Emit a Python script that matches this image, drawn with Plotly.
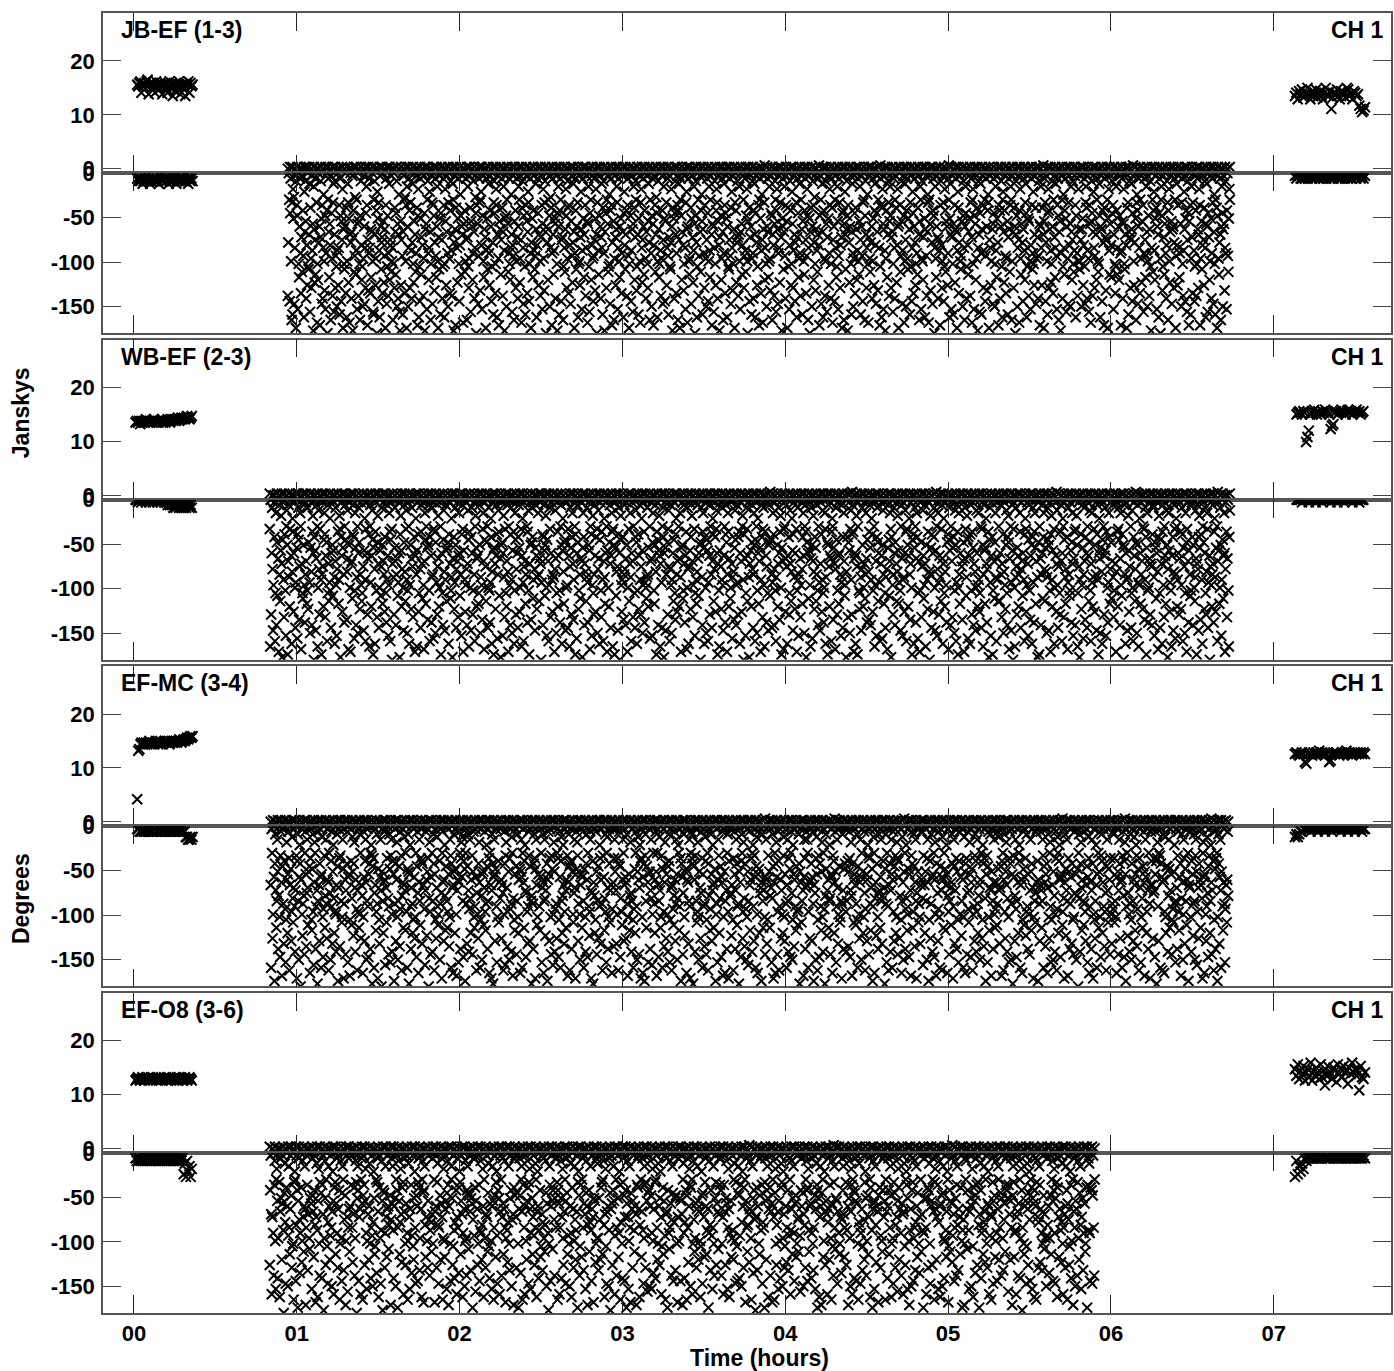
import numpy as np
import plotly.graph_objects as go

# ---------------------------------------------------------------- data
# Values are stored as one character per sample.  The character's index k in
# CODE gives the value: amplitude = k * AMP_STEP_JY, phase = -k * PHASE_STEP_DEG.
CODE = "0123456789abcdefghijklmnopqrstuvwxyzABCDEFGHIJKLMNOPQRSTUVWXY"
AMP_STEP_JY = 0.3
PHASE_STEP_DEG = 3.0

BASELINES = ["JB-EF (1-3)", "WB-EF (2-3)", "EF-MC (3-4)", "EF-O8 (3-6)"]
CHANNEL_LABEL = "CH 1"
HOUR_TICKS = [0, 1, 2, 3, 4, 5, 6, 7]
HOUR_LABELS = ["00", "01", "02", "03", "04", "05", "06", "07"]
AMP_TICKS = [0, 10, 20]
AMP_TICK_LABELS = ["0", "10", "20"]
PHASE_TICKS = [-150, -100, -50, 0]
PHASE_TICK_LABELS = ["-150", "-100", "-50", "0"]
AMP_RANGE = [-0.83, 28.9]
PHASE_RANGE = [-180, 0]
TIME_RANGE = [-0.19, 7.72]

# scan spans (hours) for each baseline
CAL1_SPAN = [(0.02, 0.36), (0.01, 0.355), (0.02, 0.36), (0.01, 0.355)]
TARGET_SPAN = [(0.945, 6.73), (0.834, 6.73), (0.84, 6.72), (0.834, 5.90)]
CAL2_SPAN = [(7.13, 7.56), (7.14, 7.55), (7.13, 7.56), (7.13, 7.56)]

CAL1_AMP = [
    "QPRSLQPRQSTKQRORPLSQPNRQKPQROLPSQRJQMRQPSKQOPQJRQSLRPQ",
    "JKJKIKJKJLKJKJKJLKJKJKKLJKJKLKJKLKLKLMKLMLMLMNMLMN",
    "eIJMNMNMNMNONMNMNONMNONMNONONMNONONONOPONOPOPQPQRQR",
    "GHIHGHIHGHHIHGHIHHGHIHGHHIHGHIHGHHIHGHIHHGHIHGHIHG",
]
CAL1_PHASE = [
    "2323243231324322332341233223243233214323232233242323",
    "00100100010010010001001001112121232322323232322323",
    "11222122212122211221221222121221222122121224455454",
    "23232332323232323232332323232323233232323284937596",
]
CAL2_AMP = [
    "JLHMKNIJLOKHMJLNIKMJHLOKJMBIKLNJHMKLIONJKHMLJKDBzAC",
    "OPQPOQPxAEOPQRPOQPOQPRQPOFHIPQOPQRQPOQRPQOPQRPQOPQ",
    "GHGFGHGBAGHGFHGHGIGHGFGHBCGHGHGFGHGHIGHGFGHGHGHGHG",
    "NJQHMKPGLNIRGMJOLHQIMDJPKLHOMFQKNIPLMEOKRLNJMAPIHL",
]
CAL2_PHASE = [
    "12112212121121211221212112121121211212122112112121",
    "00001000010000100001000001000010000100000100001000",
    "43432211111211112111121111211111211112111121111211",
    "93857462322222222222122222122222221222222221222212",
]
TARGET_AMP = [
    "0110100111010010110110010100110101101001101100101011010010110011010010110100110101100101101001011011"
    "0100101101001011010011010110010110100101101101001011010010110100110101100101101001011011010010110100"
    "1021010011010110010110100201101001011010011010110012011010010110100101101100101021011010010110100101"
    "0110100101101001011020110100101101001101011001011010010110210100101101001011010011010110010110100101",
    "1001011010011011010010110100101100110101001011011001010110100110101101001010110110010101101001101011"
    "0010110101001101101001010110101100101101001011010110010110100101101011001011010010110110100101101001"
    "0110100121010110100101101001011011010010112010110100110101100101101001011010120110100101101001011010"
    "1001011010011010110010110102101011010010110100101101001101012100101101001011010011010110010110201001",
    "0101101001101011001011010010110110100101101010011010110010110101001101011010010110100101101101001011"
    "0100110101101001011010110010110100101101101001011010010110101100101101001101011010010110110100101101"
    "1010012011010010110101100101101001021101001011010010110110100101201101011001011010010110100101101001"
    "0110101100101101001011010010112011010010110101001011010120110100101101001011011010010110100121011010",
    "1010010110110100101101001101011001011010010110110100101101001011010011010110010110100101101101001011"
    "0100101101001101011001011010010110110100101101001011010110010110100101011010010110210100101101001011"
    "0101101001011021101001011010110010110100101101001011010011021011001011010010110110100101101001011010"
    "01101001011010",
]
TARGET_PHASE = [
    "".join([
        "Kq0aMf2xTbR6h9Ns1W3cgP0yDk2uJoB1evS7m3iLrG0zAn4QdwH1tjX5lFpC2bUyE0qkVo3hNcLs8xIg",
        "Pu0eYa2mDjrT1fwKb4Qn3HvzOt0GscR2gMip6WlyAk0JdSx4bFhUn0qLm1XeoBv9CtaPj0KiyTg3rEzO",
        "w1kNsHf5cVpIu2sJlDm0xQRa3nGweY7hMbtS1kAqoJ0iFvlWc2NzgKu4EprB1xsTy0HdmCf3OjLn8QXi",
        "Gp0vRm1aJ9xcW5kOs2eHb0tLq4yFi0nBu1dVg6SzM2hCo0rKw1fXl0jPa3uEs7mTy1bNc0gIq2vDk5xW",
        "oA1hRf0pLz2cSy6iGm1uOb0wJe3tKn4aXq1lVd0sFh2yMr8gCk1nUj0eBx2pTo5zHw1dQi0kEu3mLs9f",
        "Yc0jNv2bIa7rPg1xDl0oWt2hAs4uGe1kMz0qRb3fJy6cSn1wVi0lCp2dKm5tXh1gOa0jBu2yEs8nQr1v",
        "Ti0eHx2oLk5aFw1pUd3sNg0zRc1iJm7bMy2uWq0hDe1tAv4lSr2fGn0xKo1cPj6wIb3mYk0qEa1gOs9d",
        "Vu2nCt0jLh1yXf5kRe2aMp0oTz1sBl6gHw3dJc0rNi1vFq4mWu2eAk0bSy1xGo7lPt2hDn0cKs1iUj5z",
        "Qf0aEr1wMv2pIh6nYb0tCg1kLo4sRd3uXm0fHa1jBz8yNe2cVq0iTw1oGl5bPs2xDk0hJu1mSf7rAn0e",
        "Kc2vWy0gMt1lQj5dEo3aIz0nRh1xUb6sFp2kCe0wLm1yHi4qTa0uOg2jVr1cBn9fSx3lDy0tKw1eNp5h",
        "Mi0bGs2vRo1zAq6kXd0hLf3nJu1cTe4pWa2gEm0rIy1sPb7lUk2xCw0dNh1oFt5jYg3qSz0aKv1mBe8i",
        "Rl1uHc0wOp2fMx5tDa1nVj0kQs3yGe6bLi1rXo0gEw2mTu4cJf1hSk0zAp2vNd7sIy1lWb0eFq3oKn5x",
        "Pm0jCr1aHv2tBg6xYi0dMo1kRw3uLe4nSf1qGz0cVa2hJt8pUl1bEs0yOk2mDx5wIf1gTn0rKj3aQe6l",
        "Nu1sFb0oXh2kAm5vLc1iWd0zPr3eGy7jHt1nMq0bSo2fDw4uKa1lRi0xCe2pJv6gTs1hYm0dOk3cEq9y",
        "Il0tBn2rVg1aNf4mSe0wKx3jQo1hGu6cLy2dUp0kMa1sDz5iPv2bHr0oWf1eTj7nAl3gXc0qFk1yRm4u",
        "Ow1fJd0lEt2xCi5pRk1vMb0aTg3nHs8yUo1wBq0kLx2hGe4rNf1mIa0sVz2cSd6jPl1tXw0eDn3bKi5g",
        "Ho0mQy2sLa1dFr6kWj0cBv3iNt1gUx4pOe2wAh0lRb1zMs7fJk2qGy0uCd1nTi5aPw3xEo0hSl1vKm8b",
        "Ua1jIf0qNe2gYs5wDk1oLp0tVc3rHx1bMz6eBi0kGu2aSh4nPo1yRj0cFl2mWt7dJq1xAv0iOg3sTk5f",
        "Lz0rCm1hKb2oUa6yPg0jEw1dXs3nQf4uRl1cHt0aMv2kIe8bWp1sGx0lNj2fOy5tDh1qVc0eLk3zSa7m",
        "Fe1vJw0iRo2lBc5aTx1mHd0kYn3gOs1pUe6wCj0qMl2tEb4fSz1hKi0xPr2cAu7yGn1dNw0oLv3jVk5s",
        "Gd0nWi2bMq1xRf6eHl0tFy3kJa1oDs4vPc2gTm0iXu1aLz8sCe2hQk0wNb1rOj5mEp3yBt1cSg0uKx6l",
        "Ax1pOl0hGr2zNb5dLt1wQc0jUi3fKm7sHv0nEa2xBy4gSk1lMe0qVd2oIp1aWh6tCj1rDf3cPn0yJz5e",
        "Cs0kEg1uVt2iLj6yAn0rWd1bRm3oHp4lMf1xGq0hTb8eNk2sJa1wFi0cQu2pDv5mOx1gKl3zXs0aBe7t",
        "Eh1dPk0nSf2wYa5gIz1oCj0uLr3bTe6xFm1iNl0kHq2aWv4rGc1sDu0jOb2yKt7lMh1eQp3fVi0cRw5o",
        "Jb0tMz1eKy2lHn6cVw0iAr1pGd3sSj4kQf0oEx1hLu2bNm8yRa0dWg1wCq2nTk5fOl1jIs3uPe0vBh6a",
    ]),
    "".join([
        "bT0Hk3qNw1eRz5LgA0mV2sCj6oXf1uId0yPa4hWn2tEb0lSr7cGk1xMv0iQd3fJp5aUo0zBh2wKs1nDy",
        "3Fg0vOi1rLc6kYe0jNm2aTx4qHb0uWs1pEf5dIl0gRz2oCv7yMk0hAj1tSn3wPq0cDu6bXe1lGi0sKa2f",
        "0Jr4mUh1xVo0nBd2eQy5iLt0aOk3gFs1wCz0pNj7uRb1kHm0dTa2vEl4fWi0qSc1yIg6oMx0jAp3hDn1s",
        "Ge0zKu2lPw5cRf1bYo0tHi3nLs0mAv1kXd6jEq0xNg2rCb4uOy1aSw0hFm3pIk0eVl7sTj1dGz0qMc2oB",
        "1wUn5fDa0iJh2yRe0lKt3sQb1cOg0vHp6mEx1aWk0zLf4rNu2jCi0gSd1oBy7tXm0eFv3hMq1nIl5kAs0",
        "Pd2bVj0uGw1qLo4fTc0xNe3kHy1sRa6iEm0lDz2hOt0wJb5nUf1pCg0aMx3yKv7eSr1jWi0oFl2dQs4cA",
        "0mXh1gPk6tIb0zEn2rVa0wLd3uOj1cSy5fHq0kMe2iGx0bTl7vRp1nDs0aKc4yWo1hJg3eBu0qNi2lFt0",
        "5sCm1oYv0dLe2jAh6xPf0nRw3bIk1uGs0tVq4mOz1cEl0yKa2hSj7rDg0fNx1wMb0lTp3iHe5oJu1aWd0",
        "Qk2gFy0sBm1nXi5eLo0rCt3vKh1jUa0dPw6zHs2lGe0bOq4mSf1yIc0uRn7tDk1aVj0xEg2oMl5cTb0hW",
        "1iAr0pNd3kYf6wGu0eJs2qLm1hVx0bCo5tRk1nIa0zMe4gSy0dFl2uHp7jOw1cKv0xBt3sEi0aQn1mPg5",
        "0yDh2rWc1fLj6lTo0vMa3eXk1iNs0gHb4pRq2wOu0kCf1zJd7sGn0aEm5tVi1hBy2oKl0cUx3qSp1jFe0",
        "6nIw0bPz1uDr2mAk0hYg3tLc5iSe1xOf0jRv2lHa0sMn7dCq1eGb4kWo0yTj1pFu3wNl0aKd2gVs5cEm0",
        "Bx1oQt0rJi4fLw2vHe0cSk1nGa6uYd0mPz3bCl1tXo0jEg2qMs5hRf1aOy7kDn0iVu2eIb3wTc0lKp1zNh",
        "2gAf0sMv5dLq1yRt0hEo3kJc6xWi0nUb1aGm2pSl0eHz4oCr7jNd1tFk0bVy3uPs0mIw1qDe5lOa2cXg0",
        "0kBj1wTm3hQn6rFe0iCs2yLa0vNo1dGu4zKx5bSt0gWh2pEl1mRc7aJi0oUq3fHy1lDk0sPv2tMe5nAw0",
        "Xr0eIg1jOb4uHd2cVm0kSl6pWa1yFz0tNq3hEx1oBs5mKf0rJc2iLu7dGy0aTw1nPe3gCk0vRo1lQh4sD",
        "1zMt0qUi2fAn5bXe0wHs3kLg1oCr6jDv0yNa2mPu1tGk4cRb0hEl7sJo1xWf0dSi3aKm5eQz0nVy1gIp0",
        "4lBw2oTh0uFc1rYs6iMd0kGe3xNj1aPq5vHl0tCb2mSo7zEr1wKg0dUf3jLa1nIi0eOy4hRv2cWx5sDk0",
        "0pJn1gVm3bAt6fQe0lSd2yHc1iLo0rNx4kEw5uGz0aMb1hTs2jDi7oKq0cXf3vPl1eWy0nBg5tRu1mCa0",
        "Ck2sIo0dOr1wFh4zLe6gUm0aNv2jYb1xTt3pHi0lEs5cMq1nAk0uRd7bGw1oPf2yJl0hSe3vKc5iDn0tX",
        "1gWa0mLs2kBe5qCi0rOt3fNh1yVd6uEj0bSx1lGo4wMp0zHc2nRk7aIf1tDq0eUv3sAy1jKg5oPm0cLb0",
        "6hTz1pXu0dFw2iQs3nJe0kMa1lCg4yRo5vEt0bGh1sNd2uWk7mOi0rSf1aHl3jPc0xKv5eDq1gBn2tIy0",
        "0oVr1cEb3fLm5wAd0hYi2sSk1uNt6jGp0aMz4xRe1lCq0gOh2vTw7kDs1nFa0bJu3eWi5yKx1mHo0pLd2",
        "3tPg0iBk1rUe6zMf0oSc2wIa1lDn4hXq5jGv0yTl1eNr2bQs7aEu0kHm1cFw3dRi0pOz5gVb1nKj0sAy2",
        "1eLh0xCt4mWo2qNe6iJd0uSa1gFk3zHr5bMv0lYp1wEs2oKc7tGi0aRn1jDx3hPu0fBl5kVq1cIm0yTe4",
    ]),
    "".join([
        "mR1aGx0jWe3oCs5hKq0yNb2lUf1tId0vPz6kEi2cSm0gHw4rAn1uLo0bVd3sOj7eYk1xFt0qMa2iJp5nBh",
        "0fTc1zDg3wQl6aKu0oXs2mHe1jRi4yNv0bCq5tGk1lSa0pOd2uIh7rEw0xLm3fWn1cJb0sAy5gVt1kMo0e",
        "2Pj0iUz1dBr4hFe6nLk0vSo1wCx3aGm0qTy2jHd5lOs1uNi0eKa7bXf0cRp1mDw3tVg0zIj5oYh1sEl2kQ",
        "1nAc0rMu3gPb5xLd0iWt1eHk6yOs0fJv2bSq1lCm4oDa0wRg3hXi7uKn0tEz1jGy0aNf2pTl5sBc1dIe0m",
        "0vQo2kFh1cYr6wMj0aLs3eSi1zGn4uBx0dOt1pVa2lHk7qDf0sCw1iJy5bRe0nTm3hEg1xUo0kPl2aKc6j",
        "4sNd0gWa1tIf3oLv5rEk0bMh2yCu1jSp0xGe6lRz1qOi0hBn2wDt7fKs1cTa0mVo3eXj5iHg1uPy0dAl0r",
        "1kGm0pSx2eQb6nJw0hOc1vLt4aUr0zDi1fMs3yEk0gTh5jRa1lCd7oNp0wIu2bHf1sXq0tKe3cVg5mBy0i",
        "0uDj1aPn3lTs5rFo0eWk2iHc1yMb0gQx6hLv0tGa1cNz2jRd4sEq7mIw1oCk0bUl3fSe1dKh0xAp5nVi2g",
        "6bHt0xOm1iCj2sRg0yLe3kNa1uFw5oVp0dXl1qEz2hMs0fGu7cIk1tSb0jDr3wPa4nKy1eAo0mTv1lJc5h",
        "1oIx0cSe2fNr0wBk5aHm1jGl3tUy0iDq6pLs1zRv0gEa2uOh4kMn7dVc1yTj0eWb3sCf0lPi1hKo5rQx0a",
        "0tEk2hUa1mNs4oCy0bRg1wJl6eGi0xLf3dPz1nSm0vBq2kHt5iOr7aDu1cWe0jMp3yFh1gTk0lIs5uVa2c",
        "3eXf0kLb1sAw6yOh0nGp2cRi1uJt4dMz0aSe1qDv3iHo7mCl0gWx1tPk5bEr0fNj2lUy1hTs0oKa3wVd0q",
        "1pFm0zSc2iKo5eBu0tXh1lNd3aGw6rJe0vOy1hQs2mDk0cLa7uHb1jRf4xTi0gEp1nWl3sCo0yMj5kIz0b",
        "0hCq1nPr3fVl0aTe6jMw2dSu1kGo0xEb4yHi1tRm5sLc0gNa2pOz7iJk1uDf0wBv3eXh1lAs0oUj5cKn2m",
        "5aRw0lGk1eHj2tWm0pOc4iSz1bNe0uDh6yLa1vXq3gFo0kCs7rMi1jTb0dEl2hPu5nIx1fAy0sVt3oKg0e",
        "1wLs0dJh2cNo6qUe0kAi1mBt3zRf0xGl5jOa1hEy2pSv0iHk7bMc1tDn0gWu4aTr1lFe0yKp3oCj5sIq0d",
        "0nXg3tPa1uSm0eLo5iRk2wHf1bEy6cMd0jGq1zTs4lOh0aKv7rDx1gNi0oUb2eCw3fJl5sVp1hAt0yIm2k",
        "2rQb0mEh1sOc5lWz0dGt3jLi1aNk6xUe0pHv2yRf1oSj4kCa0gDm7iTq1wMs0nBl3eVu5fIo1cKh0zPd2x",
        "0jFs1kRy4hTe0cMp2vAo6iNl1gSx0uHb3dLw5tEq1mOk0aGz7eJc1rWi0bPf2yDn3oUh1sKl5xCv0lBt2g",
        "4oIn0fUd1aSk3wGh6mLr0yPc2eOt1iXb0jHq5vNs1lEa7dRm0kTz2gBj1cFw3uKi0xMo5hDe1nVy0sAp2l",
        "1dWk0tHm2oCs5bRf0lJi1eTn3yGa6uPz0mOh1qLx2cSv4aEd7kNj0iBw1rVl3gFo5sUc0hKt1jIe0zMy2p",
        "0iOq1gYa3rLe6nDk0sBt2wHm1fPj4cTu0lKo5eVx1zGs7mRi0aCh2yNb3dEl1uJw0pSf5oAg1kMc0xIt2v",
        "3cAs0yTj1hMo5eGl0kRb2qNd6iWu1aFp0xLt3zOe1sHk4mDi7bJv0gSc1nPy0rCf2lUh5jEw1oKa0tVm2d",
        "1mGp0oNi2dXc6uHa0bRe1jSl3kTw4yEf0fLq5gCo1iMz0vAh7tPs1nKb2wDj0eUr3lOx5cIg1sBk0aWm2n",
        "0yLd1iFt3sOb5hQw0nGe2kCm1rVa6jTi0xHu4pNf1bEs7lMo0dSz2gKc1aWy3eIj5oRh0uDl1tPv0mAk2q",
    ]),
    "".join([
        "Ge1nRo0uKc3xPa6iLw0bSm2hEj1tYf4qNd0kOv5sCl1gHz0yTb7aMr1eWi2pJu0dFx3oBk5lVs1cIn0wAh",
        "0jPg2mDe1rUo4tSi6yKb0fLc1nXw3hGa0zNq5kEv1sOm7iRd0bCj2uHl1eTy3wMf5aIp0gVx1oQs2lBk0c",
        "1sFn0dKw3bYh5eMo0lRa2jTg1cGi6uPx0nEk4yLs1vOq7hCz0aJb2mSd1wNt3iXe0fHu5oDl1kAr0gVp2j",
        "5tLk0hOa1eWs3iCq6nFd0bRm2yGj1uTx4oPl0cJv1zEh7sNg0kMb2dIw1lSa3fUe5rDo0xHi1pKt0qBn2y",
        "0aUm1kHb4rNs0gEj2oTw6xDl1iPf3cVk0yMa5hGz1tLq0eRo2sJd7bCi1nSu0lOx3wKe5fAg1mIh0jWp2v",
        "2dQi0lGy1cMt3uEr6kSa0wHn1oBf4zLj0xPk5iTs1gDb7vNe0hRm1aKo2jCl3sUw0tFq5yIh1eOp0nVd2g",
        "1oHf0yWl2gJa5mTc0sRk1xEi3dNb6lPu0hCo1vGs4aSm7kLt0eDz1nIq2wBr3fOj0uXy5cMk1iAe0pKh2s",
        "0bTe1jRs3hLo6wGm0aNi2fCv1yOk4uSd0lHx5pEt1mWb7gKz0cDa2sIj1nPf3kVr0eBq5tMl1oUh0iFy2w",
        "4wIh0pEd1bCa3rSn6zNm0kOt2fXl1jGe5iRv0aKs1hDu7cTq0yLb2gMo1eWj3oPx5sUf0lHi1tBk0nVc2d",
        "1lSr0aDm2tNw5cHb0iQf1eOk3gPu6xJl0bLa1sEy4kGh7oRz0dCi1vTn2mWe0uAs3jKp5fMq1hIg0yUo2x",
        "0hMi1nVa4uLq0eTg2sFk6cOd1aRy3pBw0jHl5iEm1xSz7gNf0oDb2kCt1lWu3rIe0vPs5yKh1bGj0mAn2c",
        "2eKy0oRc1mGh3jPs6lSu0iDw1tEa4xNb0zMf5gLv1cOq7kHd0aUi2sBr1nFl3wTm5hJe0pXo1dIk0yCg2t",
        "1cNq0sWb2iEe5hSl0dKm1jUa3oTf6yGr0mPi1xLd4bOw7nHz0kFs1eIv2aRt3lCh5uMj0gDy1pBo0vQe2k",
        "0fOn1rHa3eMd6tBk0jLu2yIs1gPl4cWe0hSo5kVf1aDx7mGi0nRq2lEc1wTj3zKb5sAh0iNm1uCy0oJp2e",
        "5nDs0bGt1kVh3wOm6cRa0eLf2iMj1yTq4sNu0lIz1pEb7hKx0gCo2aSd1tWl3jPi5rFk0mUg1dHv0xBe2o",
        "1iTa0mLk2eCs5gSy0wNb1fHr3oQi6dEl0uKj1nRm4zGa7cPh0xVt1lOe2bMw3sIq5kDf0yJo1aBn0tWu2h",
        "0sRh1dHe4yNk0iGa2mTb6lEo1cPq3kSj0gOf5wLx1tDm7aUz0eBi2jFv1nMs3hKc5rIl0oCd1xWt0pVy2a",
        "3lAe0tPm1hOk6zSd0iJg2cGb1rWn4eLu0sCq5mFa1yHj7kRv0nTo2bNi1gDx3uMl5aEs0fKh1wIp0jBc2e",
        "1hQc0nEi2sVg5bDu0tRo1mKj3aLw6eXs0yCk1iNz4lGf7pMa0dPh1jSe2kTb3oHq5cFl0uIy1gAn0wOv2r",
        "0kJw1gCa3iMe6uNh0bSd2oDl1tFq4yRs0nHk5eTj1pGz7cLx0aVm2sOi1lKb3wEf5rPo0hIu1jBy0dWc2t",
        "4uMd0eNg1sKa",
    ]),
]

# ---------------------------------------------------------------- helpers
def decode(s, step, sign=1.0):
    return sign * step * np.array([CODE.index(c) for c in s if c in CODE], dtype=float)


def sample_times(span, n):
    return np.linspace(span[0], span[1], n)


W, H = 1394, 1371
L_PX, R_PX, T_PX, B_PX = 103, 1393, 10, 1313
PANEL_H = 321.0
PANEL_STEP = (B_PX - T_PX - PANEL_H) / 3.0   # top-to-top distance of panels


def px_x(px):
    return (px - L_PX) / (R_PX - L_PX)


def px_y(py):
    return (B_PX - py) / (B_PX - T_PX)


BOLD = dict(family="Liberation Sans, Arial, sans-serif", size=22, color="black", weight="bold")
LABEL_FONT = dict(family="Liberation Sans, Arial, sans-serif", size=23, color="black", weight="bold")
MARKER = dict(symbol="x-thin", size=10, color="black", line=dict(width=2.0, color="black"))

fig = go.Figure()
layout = {}

for p in range(4):
    top = T_PX + p * PANEL_STEP
    mid = top + PANEL_H / 2.0
    bot = top + PANEL_H
    for part in range(2):
        k = 2 * p + part
        sfx = "" if k == 0 else str(k + 1)
        is_amp = part == 0
        y0, y1 = (mid, top) if is_amp else (bot, mid)
        layout["yaxis" + sfx] = dict(
            domain=[max(0.0, px_y(y0)), min(1.0, px_y(y1))],
            range=AMP_RANGE if is_amp else PHASE_RANGE,
            tickvals=AMP_TICKS if is_amp else PHASE_TICKS,
            ticktext=AMP_TICK_LABELS if is_amp else PHASE_TICK_LABELS,
            ticks="inside", ticklen=18, tickwidth=1.3, tickcolor="#444",
            mirror="ticks", showline=True, linecolor="#555", linewidth=1.6,
            showgrid=False, zeroline=False, tickfont=BOLD, anchor="x" + sfx,
            ticklabelstandoff=2,
        )
        layout["xaxis" + sfx] = dict(
            domain=[0, 1], range=TIME_RANGE, tickvals=HOUR_TICKS, ticktext=HOUR_LABELS,
            ticks="inside", ticklen=18, tickwidth=1.3, tickcolor="#222",
            mirror="ticks", showline=True, linecolor="#555", linewidth=1.6,
            showgrid=False, zeroline=False, tickfont=BOLD, anchor="y" + sfx,
            showticklabels=(k == 7), ticklabelstandoff=0,
        )
        xr, yr = "x" + sfx, "y" + sfx
        if is_amp:
            series = [(CAL1_SPAN[p], CAL1_AMP[p]), (TARGET_SPAN[p], TARGET_AMP[p]),
                      (CAL2_SPAN[p], CAL2_AMP[p])]
            vals = [decode(s, AMP_STEP_JY) for _, s in series]
        else:
            series = [(CAL1_SPAN[p], CAL1_PHASE[p]), (TARGET_SPAN[p], TARGET_PHASE[p]),
                      (CAL2_SPAN[p], CAL2_PHASE[p])]
            vals = [decode(s, PHASE_STEP_DEG, -1.0) for _, s in series]
        for (span, _), v in zip(series, vals):
            fig.add_trace(go.Scatter(
                x=sample_times(span, len(v)), y=v, mode="markers", marker=MARKER,
                xaxis=xr, yaxis=yr, showlegend=False, hoverinfo="skip",
            ))

annotations = []
for p, name in enumerate(BASELINES):
    top = T_PX + p * PANEL_STEP
    annotations.append(dict(text=name, x=px_x(119), y=px_y(top + 17), xref="paper", yref="paper",
                            xanchor="left", yanchor="middle", showarrow=False, font=LABEL_FONT))
    annotations.append(dict(text=CHANNEL_LABEL, x=px_x(1388), y=px_y(top + 17), xref="paper",
                            yref="paper", xanchor="right", yanchor="middle", showarrow=False,
                            font=LABEL_FONT))
annotations.append(dict(text="Janskys", x=px_x(21), y=px_y(411), xref="paper", yref="paper",
                        textangle=-90, showarrow=False, font=LABEL_FONT,
                        xanchor="center", yanchor="middle"))
annotations.append(dict(text="Degrees", x=px_x(21), y=px_y(898), xref="paper", yref="paper",
                        textangle=-90, showarrow=False, font=LABEL_FONT,
                        xanchor="center", yanchor="middle"))
annotations.append(dict(text="Time (hours)", x=px_x(761), y=px_y(1358), xref="paper", yref="paper",
                        showarrow=False, font=LABEL_FONT, xanchor="center", yanchor="middle"))

fig.update_layout(
    width=W, height=H,
    margin=dict(l=L_PX, r=W - R_PX, t=T_PX, b=H - B_PX, pad=0),
    paper_bgcolor="white", plot_bgcolor="white",
    showlegend=False, annotations=annotations, **layout,
)

fig.write_html(
    "out.html",
    config={"displayModeBar": False},
    post_script="document.body.style.margin='0';document.body.style.overflow='hidden';",
)
